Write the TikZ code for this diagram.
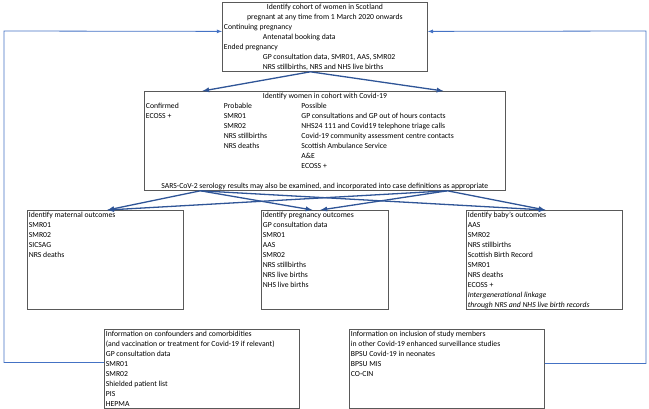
\documentclass[tikz,border=0pt]{standalone}
\usepackage{fontspec}
\setmainfont{Carlito}
\usetikzlibrary{arrows}
\definecolor{flowblue}{RGB}{47,85,151}
\definecolor{backblue}{RGB}{68,114,196}
\tikzstyle{box}=[draw=black!65, line width=0.8pt, inner xsep=1.5pt, inner ysep=0.5pt, anchor=north west, font=\fontsize{7.7}{10}\selectfont]
\tikzstyle{flow}=[->, draw=flowblue, line width=1.3pt]
\tikzstyle{back}=[->, draw=backblue, line width=0.8pt]
\newcommand{\ctr}[1]{\makebox[\linewidth]{#1}}
\begin{document}
\begin{tikzpicture}[x=1pt,y=-1pt,>=latex]
\useasboundingbox (0,0) rectangle (649,409);

% cohort
\node[box] (cohort) at (222,2) {\parbox[t][68pt][t]{202pt}{\strut\ctr{Identify cohort of women in Scotland}\\
\ctr{pregnant at any time from 1 March 2020 onwards}\\
Continuing pregnancy\\
\hspace*{39pt}Antenatal booking data\\
Ended pregnancy\\
\hspace*{39pt}GP consultation data, SMR01, AAS, SMR02\\
\hspace*{39pt}NRS stillbirths, NRS and NHS live births}};

% women with covid
\node[box] (covid) at (144,91) {\parbox[t][98pt][t]{358pt}{\strut\ctr{Identify women in cohort with Covid-19}\\
\makebox[78pt][l]{Confirmed}\makebox[77.5pt][l]{Probable}Possible\\
\makebox[78pt][l]{ECOSS +}\makebox[77.5pt][l]{SMR01}GP consultations and GP out of hours contacts\\
\makebox[78pt][l]{}\makebox[77.5pt][l]{SMR02}NHS24 111 and Covid19 telephone triage calls\\
\makebox[78pt][l]{}\makebox[77.5pt][l]{NRS stillbirths}Covid-19 community assessment centre contacts\\
\makebox[78pt][l]{}\makebox[77.5pt][l]{NRS deaths}Scottish Ambulance Service\\
\hspace*{155.5pt}A\&E\\
\hspace*{155.5pt}ECOSS +\\[10pt]
\ctr{SARS-CoV-2 serology results may also be examined, and incorporated into case definitions as appropriate}}};

% outcomes
\node[box] (mat) at (27,210) {\parbox[t][98pt][t]{153pt}{\strut Identify maternal outcomes\\
SMR01\\ SMR02\\ SICSAG\\ NRS deaths}};
\node[box] (preg) at (261,210) {\parbox[t][98pt][t]{124pt}{\strut Identify pregnancy outcomes\\
GP consultation data\\ SMR01\\ AAS\\ SMR02\\ NRS stillbirths\\ NRS live births\\ NHS live births}};
\node[box] (baby) at (466,210) {\parbox[t][98pt][t]{153pt}{\strut Identify baby's outcomes\\
AAS\\ SMR02\\ NRS stillbirths\\ Scottish Birth Record\\ SMR01\\ NRS deaths\\ ECOSS +\\
\textit{Intergenerational linkage}\\ \textit{through NRS and NHS live birth records}}};

% extra information
\node[box] (conf) at (104,329) {\parbox[t][78pt][t]{192pt}{\strut Information on confounders and comorbidities\\
(and vaccination or treatment for Covid-19 if relevant)\\
GP consultation data\\ SMR01\\ SMR02\\ Shielded patient list\\ PIS\\ HEPMA}};
\node[box] (incl) at (349,329) {\parbox[t][78pt][t]{192pt}{\strut Information on inclusion of study members\\
in other Covid-19 enhanced surveillance studies\\
BPSU Covid-19 in neonates\\ BPSU MIS\\ CO-CIN}};

% arrows
\draw[flow] ([xshift=-14.5pt]cohort.south) -- ([xshift=-122.5pt]covid.north);
\draw[flow] ([xshift=-14.5pt]cohort.south) -- ([xshift=118.5pt]covid.north);

\draw[flow] ([xshift=-124.5pt]covid.south) -- ([xshift=2pt]mat.north);
\draw[flow] ([xshift=-124.5pt]covid.south) -- ([xshift=-12.5pt]preg.north);
\draw[flow] ([xshift=-124.5pt]covid.south) -- ([xshift=1pt]baby.north);
\draw[flow] ([xshift=122.5pt]covid.south) -- ([xshift=2pt]mat.north);
\draw[flow] ([xshift=122.5pt]covid.south) -- ([xshift=-4.5pt]preg.north);
\draw[flow] ([xshift=122.5pt]covid.south) -- ([xshift=1pt]baby.north);

\coordinate (lcorner) at (4,31);
\coordinate (rcorner) at (646,31);
\draw[back] ([yshift=6.5pt]conf.west) -| (lcorner) -- ([yshift=5.5pt]cohort.west);
\draw[back] ([yshift=5.5pt]incl.east) -| (rcorner) -- ([yshift=5.5pt]cohort.east);
\end{tikzpicture}
\end{document}
